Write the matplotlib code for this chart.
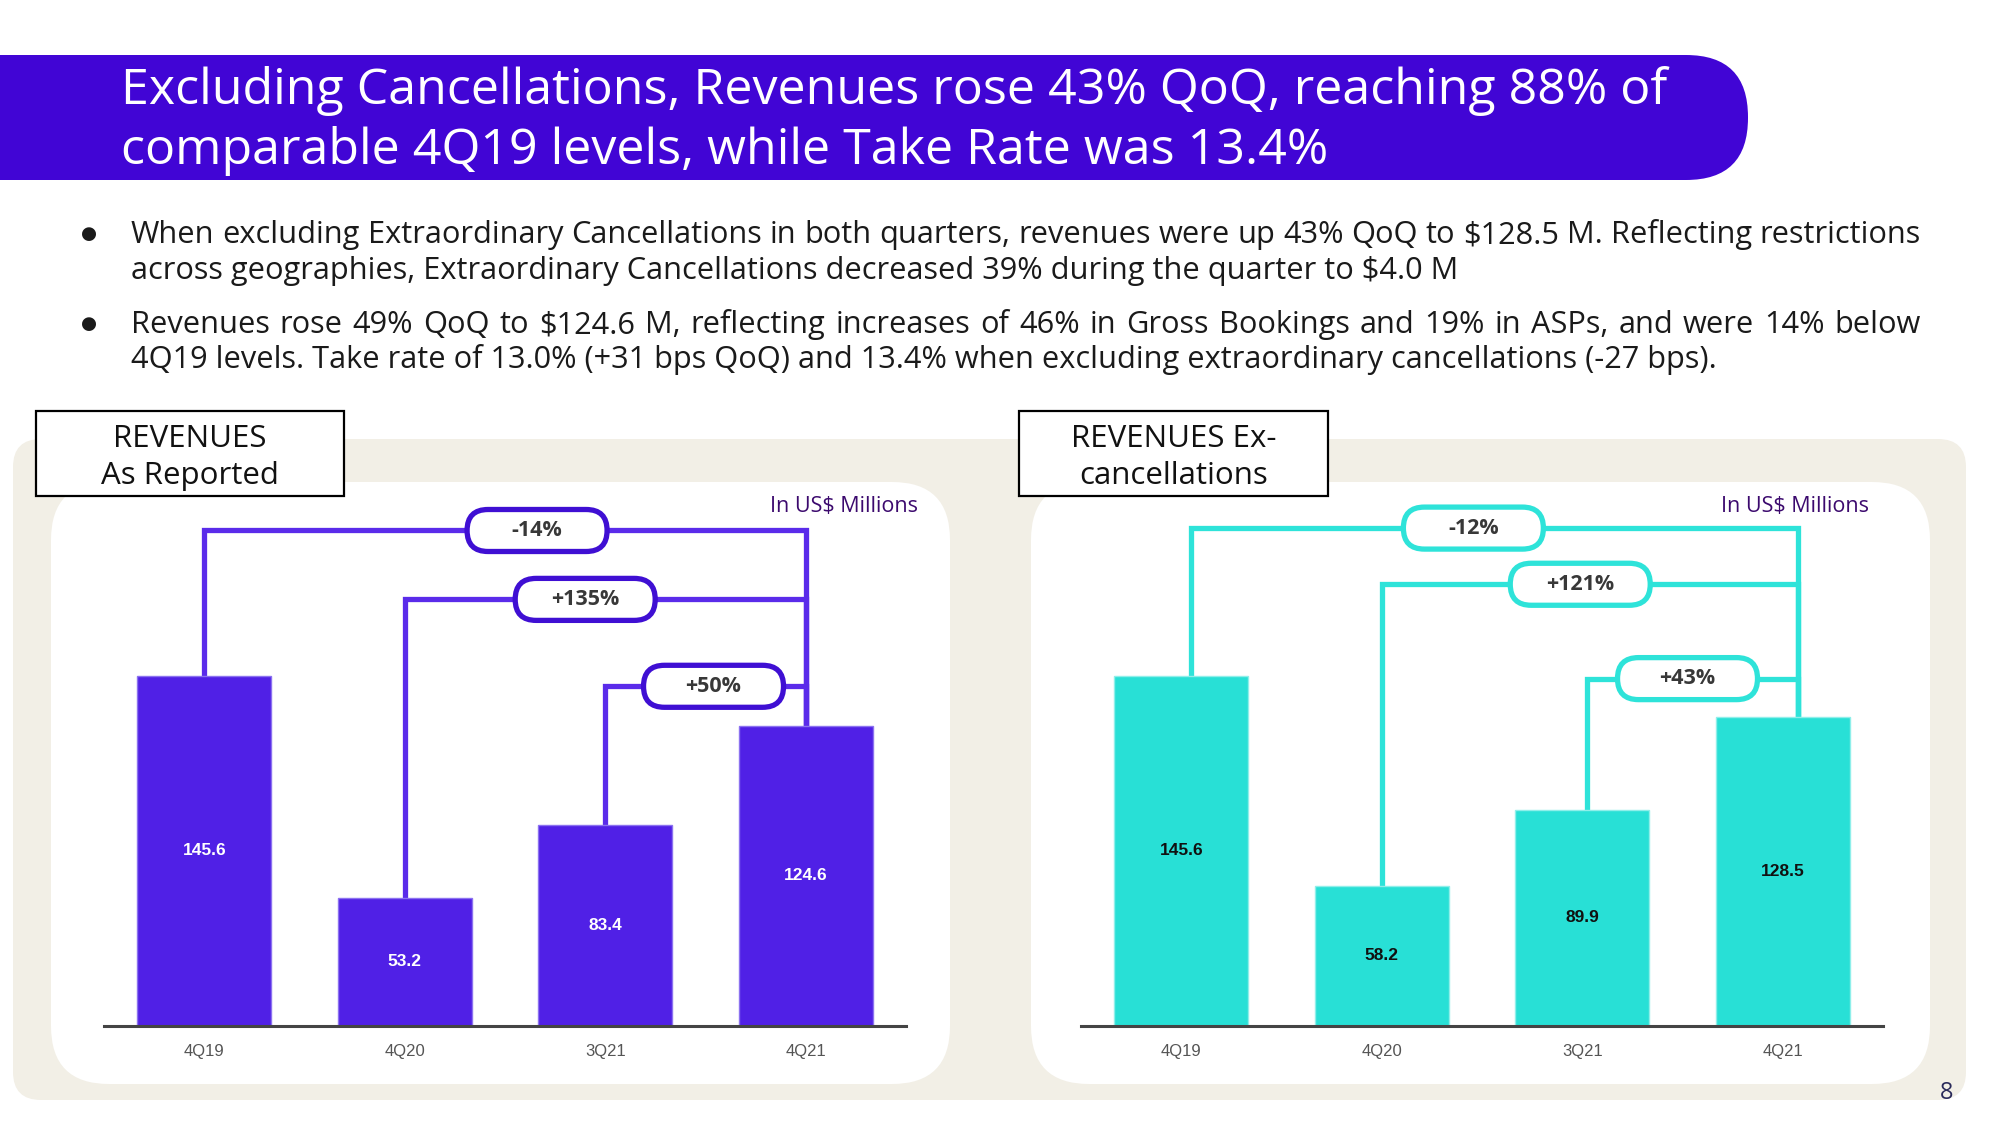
import matplotlib
matplotlib.use("Agg")
import matplotlib.pyplot as plt
from matplotlib.patches import FancyBboxPatch, Rectangle

# ---------------- data ----------------
categories = ["4Q19", "4Q20", "3Q21", "4Q21"]
rev_reported = [145.6, 53.2, 83.4, 124.6]
rev_ex_cancel = [145.6, 58.2, 89.9, 128.5]
growth_reported = ["-14%", "+135%", "+50%"]
growth_ex_cancel = ["-12%", "+121%", "+43%"]
compare_from = [0, 1, 2]          # each compared against the last quarter (4Q21)

title_lines = [
    "Excluding Cancellations, Revenues rose 43% QoQ, reaching 88% of",
    "comparable 4Q19 levels, while Take Rate was 13.4%",
]
bullet_lines = [
    ["When excluding Extraordinary Cancellations in both quarters, revenues were up 43% QoQ to $128.5 M. Reflecting restrictions",
     "across geographies, Extraordinary Cancellations decreased 39% during the quarter to $4.0 M"],
    ["Revenues rose 49% QoQ to $124.6 M, reflecting increases of 46% in Gross Bookings and 19% in ASPs, and were 14% below",
     "4Q19 levels. Take rate of 13.0% (+31 bps QoQ) and 13.4% when excluding extraordinary cancellations (-27 bps)."],
]
panel_titles = [["REVENUES", "As Reported"], ["REVENUES Ex-", "cancellations"]]
unit_label = "In US$ Millions"
page_number = "8"

# ---------------- style ----------------
W, H = 2000, 1125
FONT = "Open Sans"
BANNER = "#4105D5"
PURPLE_BAR = "#5020E6"
PURPLE_LINE = "#5A2BEA"
PURPLE_PILL = "#3F0FD3"
CYAN_BAR = "#28E0D6"
CYAN_LINE = "#2EE3D9"
BEIGE = "#F2EFE6"

plt.rcParams["font.family"] = [FONT, "DejaVu Sans"]

fig = plt.figure(figsize=(W / 100, H / 100), dpi=100)
fig.patch.set_facecolor("white")
renderer = fig.canvas.get_renderer()

bg = fig.add_axes([0, 0, 1, 1], zorder=0)
bg.set_xlim(0, W)
bg.set_ylim(H, 0)
bg.axis("off")

ov = fig.add_axes([0, 0, 1, 1], zorder=10)
ov.set_xlim(0, W)
ov.set_ylim(H, 0)
ov.axis("off")
ov.patch.set_alpha(0)


def text_width(s, fs, **kw):
    t = bg.text(0, 0, s, fontsize=fs, **kw)
    w = t.get_window_extent(renderer).width
    t.remove()
    return w


# ---- banner ----
bg.add_patch(FancyBboxPatch((-200, 55), 200 + 1748, 125,
                            boxstyle="round,pad=0,rounding_size=62",
                            fc=BANNER, ec="none"))
fs_title = 30 * 1546 / text_width(title_lines[0], 30)
for line, yb in zip(title_lines, [104, 164]):
    bg.text(121, yb, line, fontsize=fs_title, color="white", ha="left", va="baseline")

# ---- bullets ----
fs_b = 19 * 1325 / text_width(bullet_lines[0][1], 19)
x0b, x1b = 131, 1921


def justified(y, line, fs):
    words = line.split(" ")
    widths = [text_width(w, fs) for w in words]
    gap = (x1b - x0b - sum(widths)) / (len(words) - 1)
    x = x0b
    for w, wd in zip(words, widths):
        bg.text(x, y, w, fontsize=fs, ha="left", va="baseline", color="#1a1a1a")
        x += wd + gap


for (l1, l2), (y1, y2) in zip(bullet_lines, [(243, 279), (333, 368)]):
    bg.text(89, y1 - 9, "\u25CF", fontsize=fs_b * 0.6, ha="center", va="center",
            color="#1a1a1a", family="DejaVu Sans")
    justified(y1, l1, fs_b)
    bg.text(x0b, y2, l2, fontsize=fs_b, ha="left", va="baseline", color="#1a1a1a")

# ---- panels ----
bg.add_patch(FancyBboxPatch((13, 439), 1953, 661,
                            boxstyle="round,pad=0,rounding_size=28", fc=BEIGE, ec="none"))
for xl in (51, 1031):
    bg.add_patch(FancyBboxPatch((xl, 482), 899, 602,
                                boxstyle="round,pad=0,rounding_size=58", fc="white", ec="none"))
for (xl, xr), lines in zip([(36, 344), (1019, 1328)], panel_titles):
    ov.add_patch(Rectangle((xl, 411), xr - xl, 85, fc="white", ec="black", lw=1.6))
    ov.text((xl + xr) / 2, 439, lines[0], fontsize=22.5, ha="center", va="center", color="#111")
    ov.text((xl + xr) / 2, 476, lines[1], fontsize=22.5, ha="center", va="center", color="#111")
for xr in (918, 1869):
    bg.text(xr, 507, unit_label, fontsize=15.5, ha="right", va="center", color="#3C0A6E")
bg.text(1947, 1093, page_number, fontsize=17, ha="center", va="center", color="#2A2A5A")

# ---- charts ----
Y_BOTTOM = 1025.5
PX_PER_UNIT = 2.4006
Y_MAX = 220
ax_h = Y_MAX * PX_PER_UNIT


def make_chart(x_left, values, labels, levels, pill_x, conn_dx,
               bar_c, edge_c, line_c, pill_c, val_c):
    ax = fig.add_axes([x_left / W, 1 - Y_BOTTOM / H, 802 / W, ax_h / H], zorder=2)
    ax.patch.set_alpha(0)
    xs = list(range(len(categories)))
    ax.bar(xs, values, width=0.67, color=bar_c, edgecolor=edge_c, linewidth=1.0, zorder=3)
    ax.set_xlim(-0.5, len(categories) - 0.5)
    ax.set_ylim(0, Y_MAX)
    ax.set_xticks(xs)
    ax.set_xticklabels(categories, fontsize=12, color="#555555", family="Liberation Sans")
    ax.tick_params(axis="x", length=0, pad=13)
    ax.set_yticks([])
    for s in ("top", "left", "right"):
        ax.spines[s].set_visible(False)
    ax.spines["bottom"].set_color("#444444")
    ax.spines["bottom"].set_linewidth(2.2)
    ax.spines["bottom"].set_zorder(4)
    for x, v in zip(xs, values):
        ax.text(x, v / 2, f"{v:.1f}", ha="center", va="center", fontsize=12.5,
                fontweight="bold", color=val_c, family="Liberation Sans", zorder=5)
    last = len(values) - 1
    for i, lab, lev, px in zip(compare_from, labels, levels, pill_x):
        xa = i + conn_dx[i]
        xb = last + conn_dx[last]
        ax.plot([xa, xa, xb, xb], [values[i], lev, lev, values[last]],
                color=line_c, lw=3.8, solid_joinstyle="miter", solid_capstyle="butt", zorder=2)
        dx, dy = ax.transData.transform((px, lev))
        cy = H - dy
        ov.add_patch(FancyBboxPatch((dx - 70, cy - 21), 140, 42,
                                    boxstyle="round,pad=0,rounding_size=21",
                                    fc="white", ec=pill_c, lw=3.8))
        ov.text(dx, cy, lab, ha="center", va="center", fontsize=15.5, fontweight="bold",
                color="#383838")
    return ax


make_chart(104, rev_reported, growth_reported,
           levels=[206.2, 177.5, 141.3], pill_x=[1.66, 1.90, 2.54],
           conn_dx=[0, 0, 0, 0],
           bar_c=PURPLE_BAR, edge_c="#8C72F0", line_c=PURPLE_LINE,
           pill_c=PURPLE_PILL, val_c="white")
make_chart(1081, rev_ex_cancel, growth_ex_cancel,
           levels=[207.2, 183.8, 144.5], pill_x=[1.457, 1.99, 2.525],
           conn_dx=[0.05, 0.0, 0.025, 0.075],
           bar_c=CYAN_BAR, edge_c="#8FEFEA", line_c=CYAN_LINE,
           pill_c=CYAN_LINE, val_c="#111111")

fig.savefig("out.png", dpi=100)
